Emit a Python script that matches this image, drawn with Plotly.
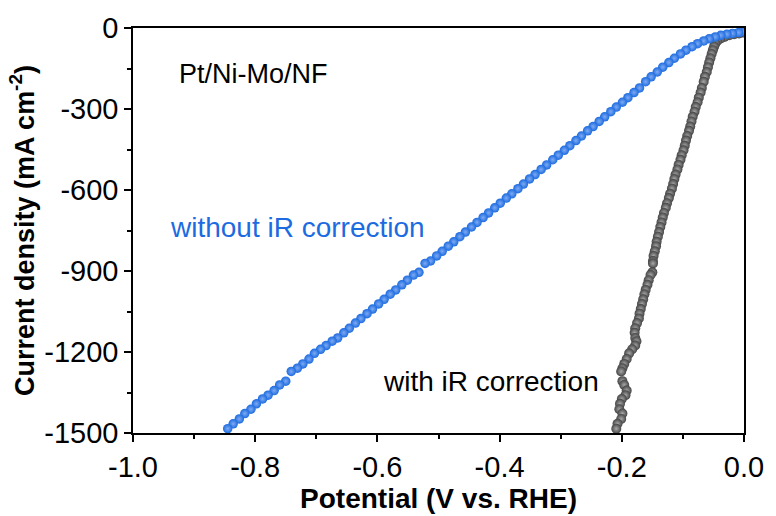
import plotly.graph_objects as go

# Current density (mA cm^-2), shared by both curves
current = [-14, -17, -20, -23, -27, -33, -40, -48, -58, -69,
           -82, -96, -112, -128, -145, -163, -181, -199, -222, -239,
           -258, -275, -293, -310, -329, -346, -365, -381, -400, -417,
           -436, -453, -471, -488, -507, -524, -543, -559, -578, -595,
           -614, -630, -649, -666, -685, -702, -720, -737, -756, -773,
           -792, -808, -827, -844, -863, -872, -905, -915, -934, -951,
           -970, -986, -1005, -1022, -1041, -1058, -1076, -1093, -1112, -1129,
           -1148, -1160, -1176, -1190, -1205, -1226, -1244, -1260, -1272, -1308,
           -1322, -1343, -1360, -1374, -1392, -1412, -1428, -1448, -1466, -1484]

# Potential without iR correction (V vs. RHE)
potential_raw = [0.000, -0.009, -0.019, -0.028, -0.038, -0.047, -0.057, -0.066, -0.076, -0.085,
                 -0.095, -0.104, -0.114, -0.123, -0.133, -0.142, -0.152, -0.161, -0.171, -0.180,
                 -0.190, -0.199, -0.209, -0.218, -0.228, -0.237, -0.247, -0.256, -0.266, -0.275,
                 -0.285, -0.294, -0.304, -0.313, -0.323, -0.332, -0.342, -0.351, -0.361, -0.370,
                 -0.380, -0.389, -0.399, -0.408, -0.418, -0.427, -0.437, -0.446, -0.456, -0.465,
                 -0.475, -0.484, -0.494, -0.503, -0.513, -0.522, -0.532, -0.541, -0.551, -0.560,
                 -0.570, -0.579, -0.589, -0.598, -0.608, -0.617, -0.627, -0.636, -0.646, -0.655,
                 -0.665, -0.674, -0.684, -0.693, -0.703, -0.712, -0.722, -0.731, -0.741, -0.750,
                 -0.760, -0.769, -0.779, -0.788, -0.798, -0.807, -0.817, -0.826, -0.836, -0.845]

# Potential with iR correction (V vs. RHE)
potential_ir = [0.004, -0.001, -0.008, -0.016, -0.024, -0.032, -0.039, -0.044, -0.047, -0.049,
                -0.051, -0.053, -0.055, -0.057, -0.059, -0.061, -0.064, -0.066, -0.069, -0.071,
                -0.074, -0.076, -0.079, -0.081, -0.084, -0.086, -0.088, -0.090, -0.093, -0.095,
                -0.097, -0.099, -0.102, -0.104, -0.107, -0.109, -0.112, -0.114, -0.116, -0.118,
                -0.121, -0.123, -0.126, -0.128, -0.131, -0.133, -0.135, -0.137, -0.139, -0.141,
                -0.143, -0.144, -0.146, -0.148, -0.149, -0.149, -0.150, -0.153, -0.156, -0.158,
                -0.161, -0.163, -0.165, -0.167, -0.169, -0.171, -0.172, -0.175, -0.178, -0.179,
                -0.178, -0.176, -0.178, -0.183, -0.188, -0.192, -0.196, -0.199, -0.201, -0.199,
                -0.196, -0.192, -0.194, -0.200, -0.203, -0.204, -0.199, -0.201, -0.207, -0.209]

x_tickvals = [-1.0, -0.8, -0.6, -0.4, -0.2, 0.0]
x_ticktext = ["-1.0", "-0.8", "-0.6", "-0.4", "-0.2", "0.0"]
y_tickvals = [0, -300, -600, -900, -1200, -1500]
y_ticktext = ["0", "-300", "-600", "-900", "-1200", "-1500"]

BLUE = "#1c6be0"
GREY = "#454545"
FONT = "Liberation Sans, Arial, sans-serif"

fig = go.Figure()
fig.add_trace(go.Scatter(
    x=potential_ir, y=current, mode="markers", name="with iR correction",
    marker=dict(size=10, color=GREY, line=dict(width=0),
                gradient=dict(type="radial", color="#a8a8a8")),
))
fig.add_trace(go.Scatter(
    x=potential_raw, y=current, mode="markers", name="without iR correction",
    marker=dict(size=9.5, color=BLUE, line=dict(width=0),
                gradient=dict(type="radial", color="#7eaaf2")),
))

axis_common = dict(
    showline=True, linecolor="black", linewidth=1.5, mirror=True,
    ticks="outside", ticklen=7, tickwidth=1.5, tickcolor="black",
    showgrid=False, zeroline=False,
    tickfont=dict(family=FONT, size=29, color="black"),
)

fig.update_xaxes(
    range=[-1.0, 0.0], tickvals=x_tickvals, ticktext=x_ticktext,
    minor=dict(ticks="outside", ticklen=4, tickwidth=1.5, tickcolor="black",
               tickvals=[-0.9, -0.7, -0.5, -0.3, -0.1]),
    title=dict(text="<b>Potential (V vs. RHE)</b>",
               font=dict(family=FONT, size=28, color="black"), standoff=2),
    **axis_common,
)
fig.update_yaxes(
    range=[-1500, 0], tickvals=y_tickvals, ticktext=y_ticktext,
    minor=dict(ticks="outside", ticklen=4, tickwidth=1.5, tickcolor="black",
               tickvals=[-150, -450, -750, -1050, -1350]),
    title=dict(text="<b>Current density (mA cm<sup>-2</sup>)</b>",
               font=dict(family=FONT, size=27, color="black"), standoff=2),
    **axis_common,
)

fig.add_annotation(x=-0.928, y=-172, xref="x", yref="y", text="Pt/Ni-Mo/NF",
                   showarrow=False, xanchor="left", yanchor="middle",
                   font=dict(family=FONT, size=27, color="black"))
fig.add_annotation(x=-0.942, y=-740, xref="x", yref="y", text="without iR correction",
                   showarrow=False, xanchor="left", yanchor="middle",
                   font=dict(family=FONT, size=28, color=BLUE))
fig.add_annotation(x=-0.594, y=-1311, xref="x", yref="y", text="with iR correction",
                   showarrow=False, xanchor="left", yanchor="middle",
                   font=dict(family=FONT, size=28, color="black"))

fig.update_layout(
    width=776, height=516,
    margin=dict(l=133, r=28, t=25, b=82),
    paper_bgcolor="white", plot_bgcolor="white",
    showlegend=False,
)

fig.write_html("out.html")
